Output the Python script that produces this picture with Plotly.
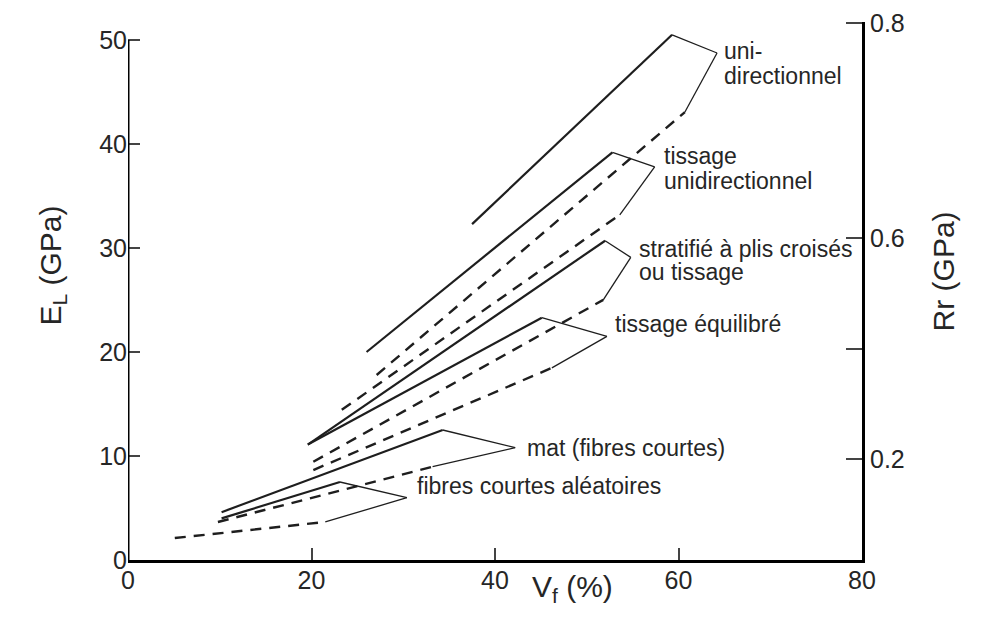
import plotly.graph_objects as go

# ---- data ----
# solid lines : longitudinal modulus E_L (GPa) vs fibre volume fraction V_f (%)
uni_vf_E = [37.5, 59.3]
uni_E = [32.3, 50.5]
tuni_vf_E = [26.0, 52.8]
tuni_E = [20.0, 39.2]
strat_vf_E = [19.6, 52.0]
strat_E = [11.1, 30.7]
teq_vf_E = [19.6, 45.1]
teq_E = [11.1, 23.3]
mat_vf_E = [10.2, 34.3]
mat_E = [4.6, 12.5]
fca_vf_E = [10.2, 23.1]
fca_E = [4.0, 7.5]

# dashed lines : tensile strength Rr (GPa) vs V_f (%)
uni_vf_R = [27.1, 60.7]
uni_R = [0.352, 0.828]
tuni_vf_R = [23.3, 53.6]
tuni_R = [0.289, 0.642]
strat_vf_R = [20.2, 51.8]
strat_R = [0.195, 0.488]
teq_vf_R = [20.2, 46.2]
teq_R = [0.180, 0.365]
mat_vf_R = [9.8, 33.2]
mat_R = [0.086, 0.186]
fca_vf_R = [5.1, 21.5]
fca_R = [0.057, 0.086]

categories = [
    ["uni-", "directionnel"],
    ["tissage", "unidirectionnel"],
    ["stratifié à plis croisés", "ou tissage"],
    ["tissage équilibré"],
    ["mat (fibres courtes)"],
    ["fibres courtes aléatoires"],
]

x_ticks = [0, 20, 40, 60, 80]
e_ticks = [0, 10, 20, 30, 40, 50]
rr_tick_labels = ["0.2", " ", "0.6", "0.8"]

# ---- layout helpers (positions / styles) ----
X_RANGE = [0, 80]
Y_RANGE = [0, 51.73]
Y2_RANGE = [0.0172, 0.991]
# the top label of the right axis sits at the very top of the axis line
rr_tick_pos = [0.2, 0.4, 0.6, Y2_RANGE[1] - 0.002]

# bracket apex (V_f, E_L units) next to each label
apex_x = [64.2, 57.4, 54.8, 52.2, 42.2, 30.4]
apex_y = [48.75, 37.8, 29.1, 21.5, 10.8, 6.0]
# label line anchor (left edge), E_L units
label_x = [64.7, 58.2, 55.5, 52.9, 43.3, 31.3]
label_y = [[48.9, 46.5], [38.8, 36.4], [29.9, 27.7], [22.7], [10.8], [7.1]]

INK = "#1e1e1e"
TXT = "#262626"
FONT = "Liberation Sans, Arial, sans-serif"


def e_to_r(e):
    return Y2_RANGE[0] + (e - Y_RANGE[0]) / (Y_RANGE[1] - Y_RANGE[0]) * (Y2_RANGE[1] - Y2_RANGE[0])


solids = [(uni_vf_E, uni_E), (tuni_vf_E, tuni_E), (strat_vf_E, strat_E),
          (teq_vf_E, teq_E), (mat_vf_E, mat_E), (fca_vf_E, fca_E)]
dashes = [(uni_vf_R, uni_R), (tuni_vf_R, tuni_R), (strat_vf_R, strat_R),
          (teq_vf_R, teq_R), (mat_vf_R, mat_R), (fca_vf_R, fca_R)]

fig = go.Figure()

for i, ((sx, sy), (dx, dy)) in enumerate(zip(solids, dashes)):
    name = " ".join(categories[i])
    fig.add_trace(go.Scatter(x=sx, y=sy, mode="lines", yaxis="y",
                             line=dict(color=INK, width=2.2), name=name + " E_L",
                             showlegend=False, hoverinfo="skip"))
    fig.add_trace(go.Scatter(x=dx, y=dy, mode="lines", yaxis="y2",
                             line=dict(color=INK, width=2.4, dash="11px,8px"),
                             name=name + " Rr", showlegend=False, hoverinfo="skip"))
    # bracket: solid end -> apex -> dashed end
    fig.add_trace(go.Scatter(x=[sx[-1], apex_x[i]], y=[sy[-1], apex_y[i]], mode="lines",
                             yaxis="y", line=dict(color=INK, width=1.3),
                             showlegend=False, hoverinfo="skip"))
    fig.add_trace(go.Scatter(x=[apex_x[i], dx[-1]], y=[e_to_r(apex_y[i]), dy[-1]], mode="lines",
                             yaxis="y2", line=dict(color=INK, width=1.3),
                             showlegend=False, hoverinfo="skip"))

annotations = []
for i, lines in enumerate(categories):
    for j, t in enumerate(lines):
        annotations.append(dict(x=label_x[i], y=label_y[i][j], xref="x", yref="y",
                                text=t, showarrow=False, xanchor="left", yanchor="middle",
                                font=dict(family=FONT, size=23, color=TXT)))

annotations += [
    dict(x=-0.131, y=0.548, xref="paper", yref="paper", text="E<sub>L</sub> (GPa)",
         textangle=-90, showarrow=False, font=dict(family=FONT, size=30, color=TXT)),
    dict(x=1.136, y=0.537, xref="paper", yref="paper", text="Rr (GPa)",
         textangle=-90, showarrow=False, font=dict(family=FONT, size=30, color=TXT)),
    dict(x=0.606, y=-0.092, xref="paper", yref="paper", text="V<sub>f</sub> (%)",
         showarrow=False, font=dict(family=FONT, size=30, color=TXT)),
]

# the page body adds an 8 px offset: margins compensate so the plot area sits at
# x 128..862, y 22..560 of the 984x621 window
fig.update_layout(
    width=984, height=621,
    margin=dict(l=120, r=130, t=14, b=69, autoexpand=False),
    plot_bgcolor="white", paper_bgcolor="white",
    showlegend=False,
    annotations=annotations,
    shapes=[dict(type="line", xref="x", yref="y", x0=0, x1=0, y0=0, y1=50,
                 line=dict(color="black", width=3))],
    xaxis=dict(range=X_RANGE, tickvals=x_ticks, ticks="inside", ticklen=12, tickwidth=1.5,
               tickcolor="#444", showline=True, linecolor="black", linewidth=3,
               showgrid=False, zeroline=False, ticklabelstandoff=-4, automargin=False,
               tickfont=dict(family=FONT, size=25, color=TXT)),
    yaxis=dict(range=Y_RANGE, tickvals=e_ticks, ticks="inside", ticklen=12, tickwidth=1.5,
               tickcolor="#444", showline=False, showgrid=False, zeroline=False,
               automargin=False,
               tickfont=dict(family=FONT, size=25, color=TXT)),
    yaxis2=dict(range=Y2_RANGE, overlaying="y", side="right", tickvals=rr_tick_pos,
                ticktext=rr_tick_labels, ticks="inside", ticklen=16, tickwidth=1.5,
                tickcolor="#444", showline=True, linecolor="black", linewidth=3,
                showgrid=False, zeroline=False, automargin=False,
                tickfont=dict(family=FONT, size=25, color=TXT)),
)

fig.write_html("out.html")
